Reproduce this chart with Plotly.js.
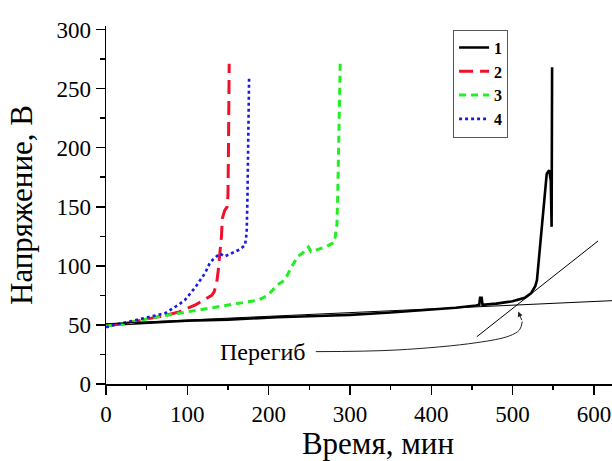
<!DOCTYPE html>
<html>
<head>
<meta charset="utf-8">
<script src="https://cdn.plot.ly/plotly-3.0.1.min.js"></script>
<style>
html, body { margin: 0; padding: 0; overflow: hidden; background: #fff; }
#chart { width: 650px; height: 461px; }
</style>
</head>
<body>
<div id="chart"></div>
<script>
// Series 1 (black, solid)
const time1 = [0, 15, 30, 60, 100, 150, 210, 260, 300, 350, 400, 430, 455, 459, 460, 462, 463, 480, 500, 515, 523, 528, 530, 533, 536, 539, 542, 545, 547, 548, 548.3, 548.6];
const volt1 = [50, 50.5, 51.5, 52.5, 53.5, 54.5, 56.5, 57.5, 58.5, 60.5, 63, 64.5, 66.5, 67, 73, 73, 67, 68, 70, 73, 77, 83, 88, 110, 135, 160, 178, 181, 172, 133, 180, 268];
// Series 2 (red, dashed)
const time2 = [0, 10, 30, 50, 70, 90, 110, 125, 130, 133, 136, 138, 140, 142, 143, 146, 149, 150, 150.5, 151, 151.5];
const volt2 = [49, 50, 52, 55, 57.5, 61, 67, 73, 75, 78, 85, 96, 110, 125, 140, 147, 150, 160, 190, 230, 271];
// Series 3 (green, short dashes)
const time3 = [0, 10, 30, 60, 90, 114, 130, 160, 187, 199, 211, 220, 228, 236, 242, 246, 249, 252, 256, 262, 270, 281, 284, 285, 286, 287, 288];
const volt3 = [49, 50, 52, 56.5, 60, 62.7, 65, 68, 71, 75, 84, 88, 99, 108, 111, 114, 116, 112, 113, 114, 116, 120, 135, 160, 200, 240, 271];
// Series 4 (blue, dotted)
const time4 = [0, 10, 30, 50, 73, 89, 97, 110, 122, 128, 134, 140, 146, 155, 165, 171, 173, 174, 175, 176];
const volt4 = [48, 50, 53, 56, 60, 67, 71, 82, 94, 103, 106.5, 110.5, 108, 111, 114, 117.5, 128, 160, 210, 260];
// Tangent construction lines
const tangentA_t = [0, 669];
const tangentA_v = [51, 72];
const tangentB_t = [456, 605];
const tangentB_v = [40, 121];
// Leader curve for the "Перегиб" label
const leader_t = [258, 358, 456, 496, 508.5, 512];
const leader_v = [27.4, 28.8, 35, 40.7, 45.8, 52.8];
const arrowTip = [507, 61.3];
const seriesNames = ['1', '2', '3', '4'];
const xTitle = 'Время, мин';
const yTitle = 'Напряжение, В';
const inflectionLabel = 'Перегиб';

const serif = 'Liberation Serif, Times New Roman, serif';

const traces = [
  {x: time1, y: volt1, name: seriesNames[0], mode: 'lines', line: {color: '#000000', width: 2.6}},
  {x: time2, y: volt2, name: seriesNames[1], mode: 'lines', line: {color: '#f0102a', width: 3, dash: '14px,7px'}},
  {x: time3, y: volt3, name: seriesNames[2], mode: 'lines', line: {color: '#22ee22', width: 3, dash: '7px,5px'}},
  {x: time4, y: volt4, name: seriesNames[3], mode: 'lines', line: {color: '#1a1ae6', width: 2.6, dash: 'dot'}},
  {x: tangentA_t, y: tangentA_v, mode: 'lines', showlegend: false, hoverinfo: 'skip', line: {color: '#000000', width: 1}},
  {x: tangentB_t, y: tangentB_v, mode: 'lines', showlegend: false, hoverinfo: 'skip', line: {color: '#000000', width: 1}},
  {x: leader_t, y: leader_v, mode: 'lines', showlegend: false, hoverinfo: 'skip', line: {color: '#222222', width: 1, shape: 'spline'}}
];

const layout = {
  width: 650,
  height: 461,
  margin: {l: 106, r: 0, t: 26, b: 77},
  paper_bgcolor: '#ffffff',
  plot_bgcolor: '#ffffff',
  font: {family: serif, color: '#000000', size: 23},
  showlegend: true,
  legend: {
    x: 0.638, y: 0.99, xanchor: 'left', yanchor: 'top',
    bgcolor: 'rgba(255,255,255,0)', bordercolor: '#555555', borderwidth: 1,
    font: {family: serif, size: 16, color: '#000000', weight: 'bold'},
    traceorder: 'normal'
  },
  xaxis: {
    range: [0, 669],
    showgrid: false, zeroline: false,
    showline: true, linecolor: '#000000', linewidth: 1.5,
    ticks: 'outside', ticklen: 9, tickwidth: 1.5, tickcolor: '#000000',
    dtick: 100, tick0: 0,
    minor: {dtick: 50, ticks: 'outside', ticklen: 4, tickwidth: 1.5, tickcolor: '#000000'},
    tickfont: {family: serif, size: 23},
    title: {text: xTitle, font: {family: serif, size: 31}, standoff: 6}
  },
  yaxis: {
    range: [0, 303],
    showgrid: false, zeroline: false,
    showline: true, linecolor: '#000000', linewidth: 1.5,
    ticks: 'outside', ticklen: 9, tickwidth: 1.5, tickcolor: '#000000',
    dtick: 50, tick0: 0,
    minor: {dtick: 25, ticks: 'outside', ticklen: 5, tickwidth: 1.5, tickcolor: '#000000'},
    tickfont: {family: serif, size: 23},
    title: {text: yTitle, font: {family: serif, size: 31}, standoff: 14}
  },
  annotations: [
    {x: 193, y: 27, xref: 'x', yref: 'y', text: inflectionLabel, showarrow: false,
     font: {family: serif, size: 24, color: '#000000'}},
    {x: arrowTip[0], y: arrowTip[1], xref: 'x', yref: 'y',
     ax: leader_t[leader_t.length - 1], ay: leader_v[leader_v.length - 1], axref: 'x', ayref: 'y',
     text: '', showarrow: true, arrowhead: 2, arrowsize: 1, arrowwidth: 1, arrowcolor: '#222222'}
  ]
};

Plotly.newPlot('chart', traces, layout, {displayModeBar: false, staticPlot: true});
</script>
</body>
</html>
